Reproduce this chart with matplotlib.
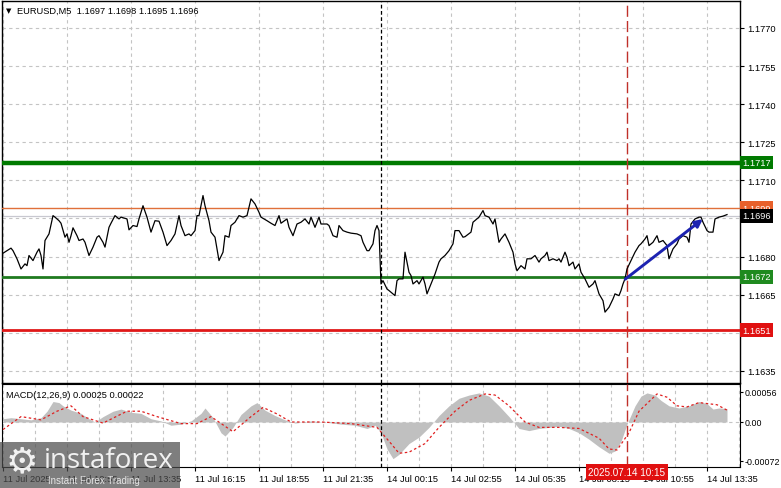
import numpy as np
import matplotlib.pyplot as plt
from matplotlib.patches import Rectangle

# EURUSD M5 closes (bar index, price)
bar_idx = [0, 4, 5, 7, 9, 11, 12, 13, 15, 17, 18, 19, 20, 21, 22, 23, 25, 26, 28, 29,
           31, 32, 33, 34, 35, 37, 38, 40, 41, 43, 45, 47, 48, 50, 51, 53, 54, 56, 58, 59,
           62, 63, 65, 67, 68, 70, 72, 74, 76, 78, 80, 82, 84, 86, 88, 89, 91, 93, 94, 96,
           97, 98, 100, 101, 103, 104, 106, 107, 108, 110, 111, 113, 114, 116, 118, 120, 122, 124, 126, 128,
           129, 132, 134, 136, 138, 139, 142, 143, 145, 147, 149, 151, 153, 154, 156, 158, 159, 162, 163, 165,
           167, 168, 170, 172, 174, 177, 179, 180, 182, 183, 185, 186, 187, 188, 189, 190, 192, 193, 196, 197,
           198, 200, 201, 203, 204, 205, 207, 208, 210, 211, 212, 214, 216, 218, 219, 221, 223, 225, 226, 228,
           230, 231, 234, 235, 237, 238, 240, 241, 243, 245, 246, 248, 249, 251, 253, 255, 256, 257, 259, 261,
           262, 264, 266, 268, 269, 271, 272, 273, 275, 277, 278, 279, 281, 282, 283, 285, 286, 288, 289, 291,
           293, 295, 296, 298, 300, 301, 303, 305, 306, 308, 309, 310, 311, 312, 314, 316, 318, 319, 321, 322,
           323, 325, 327, 328, 330, 332, 333, 335, 337, 338, 340, 342, 343, 344, 346, 348, 349, 350, 352, 353,
           355, 356, 358, 360, 362]
close = [1.16813, 1.16833, 1.16823, 1.16791, 1.16751, 1.16771, 1.16764, 1.16804, 1.16784, 1.16817,
         1.16830, 1.16804, 1.16751, 1.16863, 1.16876, 1.16889, 1.16961, 1.16955, 1.16941, 1.16931,
         1.16876, 1.16889, 1.16856, 1.16882, 1.16913, 1.16882, 1.16863, 1.16869, 1.16856, 1.16804,
         1.16837, 1.16876, 1.16882, 1.16856, 1.16837, 1.16915, 1.16931, 1.16961, 1.16948, 1.16955,
         1.16948, 1.16905, 1.16922, 1.16918, 1.16948, 1.17000, 1.16955, 1.16896, 1.16941, 1.16939,
         1.16896, 1.16843, 1.16863, 1.16889, 1.16961, 1.16922, 1.16882, 1.16889, 1.16882, 1.16902,
         1.16961, 1.16961, 1.17040, 1.17000, 1.16941, 1.16896, 1.16876, 1.16830, 1.16784, 1.16817,
         1.16882, 1.16876, 1.16922, 1.16935, 1.16961, 1.16955, 1.16961, 1.17027, 1.17007, 1.16974,
         1.16955, 1.16941, 1.16931, 1.16922, 1.16961, 1.16931, 1.16948, 1.16915, 1.16882, 1.16928,
         1.16935, 1.16948, 1.16928, 1.16955, 1.16915, 1.16955, 1.16928, 1.16928, 1.16922, 1.16882,
         1.16876, 1.16922, 1.16902, 1.16896, 1.16892, 1.16889, 1.16882, 1.16856, 1.16823, 1.16823,
         1.16850, 1.16902, 1.16922, 1.16902, 1.16692, 1.16705, 1.16672, 1.16666, 1.16646, 1.16705,
         1.16712, 1.16712, 1.16817, 1.16738, 1.16725, 1.16692, 1.16705, 1.16692, 1.16719, 1.16692,
         1.16653, 1.16692, 1.16731, 1.16778, 1.16791, 1.16804, 1.16823, 1.16850, 1.16902, 1.16902,
         1.16876, 1.16878, 1.16896, 1.16935, 1.16948, 1.16955, 1.16981, 1.16961, 1.16955, 1.16928,
         1.16948, 1.16856, 1.16869, 1.16889, 1.16856, 1.16817, 1.16771, 1.16744, 1.16764, 1.16751,
         1.16791, 1.16791, 1.16804, 1.16778, 1.16791, 1.16804, 1.16817, 1.16784, 1.16791, 1.16784,
         1.16791, 1.16778, 1.16817, 1.16797, 1.16764, 1.16778, 1.16751, 1.16771, 1.16738, 1.16712,
         1.16679, 1.16692, 1.16705, 1.16653, 1.16626, 1.16581, 1.16600, 1.16633, 1.16653, 1.16646,
         1.16666, 1.16692, 1.16712, 1.16751, 1.16784, 1.16817, 1.16843, 1.16850, 1.16869, 1.16882,
         1.16843, 1.16856, 1.16882, 1.16856, 1.16863, 1.16843, 1.16791, 1.16830, 1.16850, 1.16869,
         1.16882, 1.16876, 1.16856, 1.16928, 1.16948, 1.16955, 1.16955, 1.16935, 1.16902, 1.16896,
         1.16896, 1.16948, 1.16955, 1.16959, 1.16965]

# MACD histogram and signal line (bar index, value)
hist_idx = [0, 4, 9, 14, 19, 22, 25, 28, 30, 34, 39, 43, 46, 50, 55, 59, 64, 69, 74, 79,
            84, 89, 94, 99, 101, 105, 109, 111, 115, 119, 124, 127, 131, 136, 141, 146, 154, 161, 169, 176,
            182, 186, 189, 192, 195, 198, 203, 208, 213, 218, 223, 228, 233, 238, 243, 248, 253, 258, 263, 268,
            273, 278, 283, 288, 293, 298, 303, 306, 309, 312, 316, 319, 322, 326, 329, 333, 338, 343, 348, 352,
            355, 358, 362]
hist_val = [0.00006, 0.00008, 0.00006, 0.00004, 0.00008, 0.00020, 0.00038, 0.00036, 0.00030, 0.00022,
            0.00016, 0.00006, 0.00000, 0.00010, 0.00020, 0.00024, 0.00018, 0.00016, 0.00006, 0.00002,
            -0.00006, -0.00004, 0.00002, 0.00016, 0.00026, 0.00008, -0.00020, -0.00026, -0.00010, 0.00014,
            0.00030, 0.00036, 0.00022, 0.00012, 0.00004, -0.00002, 0.00002, 0.00000, -0.00004, -0.00006,
            -0.00012, -0.00006, -0.00020, -0.00050, -0.00068, -0.00060, -0.00040, -0.00028, -0.00010, 0.00012,
            0.00030, 0.00044, 0.00050, 0.00054, 0.00048, 0.00030, 0.00010, -0.00012, -0.00016, -0.00012,
            -0.00010, -0.00008, -0.00012, -0.00020, -0.00032, -0.00046, -0.00058, -0.00054, -0.00036, -0.00004,
            0.00030, 0.00048, 0.00054, 0.00050, 0.00040, 0.00030, 0.00026, 0.00030, 0.00038, 0.00034,
            0.00024, 0.00026, 0.00025]
sig_idx = [0, 9, 19, 27, 34, 40, 50, 62, 69, 77, 89, 97, 104, 115, 124, 130, 137, 144, 159, 174,
           187, 194, 198, 203, 211, 218, 226, 233, 241, 246, 253, 261, 268, 278, 288, 298, 303, 307, 313, 318,
           327, 332, 337, 342, 348, 357, 362]
sig_val = [-0.00014, 0.00010, 0.00004, 0.00020, 0.00030, 0.00010, -0.00002, 0.00020, 0.00020, 0.00010,
           -0.00003, -0.00003, 0.00010, -0.00018, 0.00010, 0.00027, 0.00015, 0.00000, 0.00000, -0.00003,
           -0.00010, -0.00040, -0.00058, -0.00056, -0.00040, -0.00010, 0.00020, 0.00040, 0.00052, 0.00050,
           0.00030, 0.00000, -0.00010, -0.00010, -0.00012, -0.00030, -0.00050, -0.00052, -0.00020, 0.00020,
           0.00052, 0.00046, 0.00030, 0.00028, 0.00036, 0.00032, 0.00022]

# levels drawn on the chart
level_prices = [1.1717, 1.1699, 1.1672, 1.1651]
level_colors = ['#007a00', '#e0703a', '#1f7a1f', '#e01818']
level_widths = [3.2, 1.0, 2.0, 2.0]
level_box = ['#007a00', '#e8602a', '#1f8a1f', '#e01010']
last_price = 1.1696

y_ticks = [1.1635, 1.1650, 1.1665, 1.1680, 1.1695, 1.1710, 1.1725, 1.1740, 1.1755, 1.1770]
y_labels = ['1.1635', '', '1.1665', '1.1680', '', '1.1710', '1.1725', '1.1740', '1.1755', '1.1770']
time_ticks = [0, 32, 64, 96, 128, 160, 192, 224, 256, 288, 320, 352]
time_labels = ['11 Jul 2025', '11 Jul 10:55', '11 Jul 13:35', '11 Jul 16:15', '11 Jul 18:55',
               '11 Jul 21:35', '14 Jul 00:15', '14 Jul 02:55', '14 Jul 05:35', '14 Jul 08:15',
               '14 Jul 10:55', '14 Jul 13:35']
day_break = 189
signal_bar = 312
arrow_from = (310, 1.16704)
arrow_to = (351, 1.16954)

plt.rcParams['font.family'] = ['Liberation Sans', 'DejaVu Sans']
FS = 6.7
W, H = 781, 489


def rect(l, t, r, b):
    return [l / W, 1 - b / H, (r - l) / W, (b - t) / H]


fig = plt.figure(figsize=(W / 100, H / 100), dpi=100)
ax = fig.add_axes(rect(2, 2, 740, 384))
axm = fig.add_axes(rect(2, 385, 740, 468), sharex=ax)

grid_kw = dict(color='#c4c4c4', linestyle=(0, (3, 3)), linewidth=0.8)

# ---- price panel
ax.set_xlim(-0.5, 368.5)
ax.set_ylim(1.16302, 1.17806)
ax.set_yticks(y_ticks)
ax.set_yticklabels(y_labels)
ax.yaxis.tick_right()
ax.tick_params(axis='y', labelsize=FS, length=3, pad=2.5)
ax.tick_params(axis='x', length=0, labelbottom=False)
ax.set_xticks(np.arange(16, 369, 16))
ax.grid(True, **grid_kw)
for s in ax.spines.values():
    s.set_linewidth(1.0)

ax.axhline(last_price, color='#c8c8d0', lw=0.9, zorder=2)
for p, c, w in zip(level_prices, level_colors, level_widths):
    ax.axhline(p, color=c, lw=w, zorder=3)
ax.plot(bar_idx, close, color='black', lw=0.9, zorder=4)
ax.axvline(day_break, color='black', lw=0.9, ls=(0, (3, 2)), zorder=3)
ax.axvline(signal_bar, color='#c0302a', lw=1.0, ls=(0, (8, 3)), zorder=3)
ax.annotate('', xy=arrow_to, xytext=arrow_from,
            arrowprops=dict(arrowstyle='-|>', color='#1c22b0', lw=2.1, mutation_scale=11),
            zorder=5)

trans = ax.get_yaxis_transform()
for p, c in zip(level_prices, level_box):
    ax.text(1.003, p, f'{p:.4f}', transform=trans, fontsize=FS, color='white', va='center',
            ha='left', clip_on=False, zorder=10,
            bbox=dict(boxstyle='square,pad=0.25', fc=c, ec='none'))
ax.text(1.003, last_price, f'{last_price:.4f}', transform=trans, fontsize=FS, color='white',
        va='center', ha='left', clip_on=False, zorder=11,
        bbox=dict(boxstyle='square,pad=0.25', fc='black', ec='none'))

ax.text(0.005, 0.985, '\u25bc', transform=ax.transAxes, fontsize=5, va='top', ha='left',
        family='DejaVu Sans')
ax.text(0.021, 0.988, 'EURUSD,M5  1.1697 1.1698 1.1695 1.1696', transform=ax.transAxes,
        fontsize=FS, va='top', ha='left')

# ---- MACD panel
axm.set_ylim(-0.000835, 0.000705)
axm.fill_between(hist_idx, 0, hist_val, color='#c0c0c0', lw=0, zorder=2)
axm.plot(sig_idx, sig_val, color='#e02020', lw=0.9, ls=(0, (2, 2)), zorder=3)
axm.axhline(0, **grid_kw)
axm.set_yticks([-0.00072, 0.0, 0.00056])
axm.set_yticklabels(['-0.00072', '0.00', '0.00056'])
axm.yaxis.tick_right()
axm.tick_params(axis='y', labelsize=FS - 0.3, length=2, pad=1)
axm.set_xticks(time_ticks)
axm.set_xticklabels(time_labels)
axm.set_xticks(np.arange(16, 369, 32), minor=True)
axm.tick_params(axis='x', which='major', labelsize=FS, length=3, pad=2)
axm.tick_params(axis='x', which='minor', length=0)
for lab in axm.get_xticklabels():
    lab.set_ha('left')
axm.xaxis.grid(True, which='both', **grid_kw)
axm.axvline(day_break, color='black', lw=0.9, ls=(0, (3, 2)), zorder=3)
axm.axvline(signal_bar, color='#c0302a', lw=1.0, ls=(0, (8, 3)), zorder=3)
axm.text(0.006, 0.93, 'MACD(12,26,9) 0.00025 0.00022', transform=axm.transAxes,
         fontsize=FS, va='top', ha='left')

# red time marker on the axis
axm.text(signal_bar, -0.000835, '2025.07.14 10:15', transform=axm.transData,
         fontsize=FS + 0.4, color='white', ha='center', va='top', clip_on=False, zorder=12,
         bbox=dict(boxstyle='square,pad=0.3', fc='#e01010', ec='none'))

# watermark
fig.patches.append(Rectangle((0, 0), 180 / W, 46 / H, transform=fig.transFigure,
                             fc='#4d4d4d', ec='none', alpha=0.72, zorder=20))
fig.text(22 / W, 1 - 462 / H, '\u2699', fontsize=26, color='white', alpha=0.9,
         ha='center', va='center', family='DejaVu Sans', zorder=21)
fig.text(44 / W, 1 - 461 / H, 'instaforex', fontsize=20, color='white', alpha=0.9,
         ha='left', va='center', family='Open Sans', zorder=21)
fig.text(48 / W, 1 - 481 / H, 'Instant Forex Trading', fontsize=7, color='white', alpha=0.8,
         ha='left', va='center', zorder=21)

fig.savefig('out.png', dpi=100)
